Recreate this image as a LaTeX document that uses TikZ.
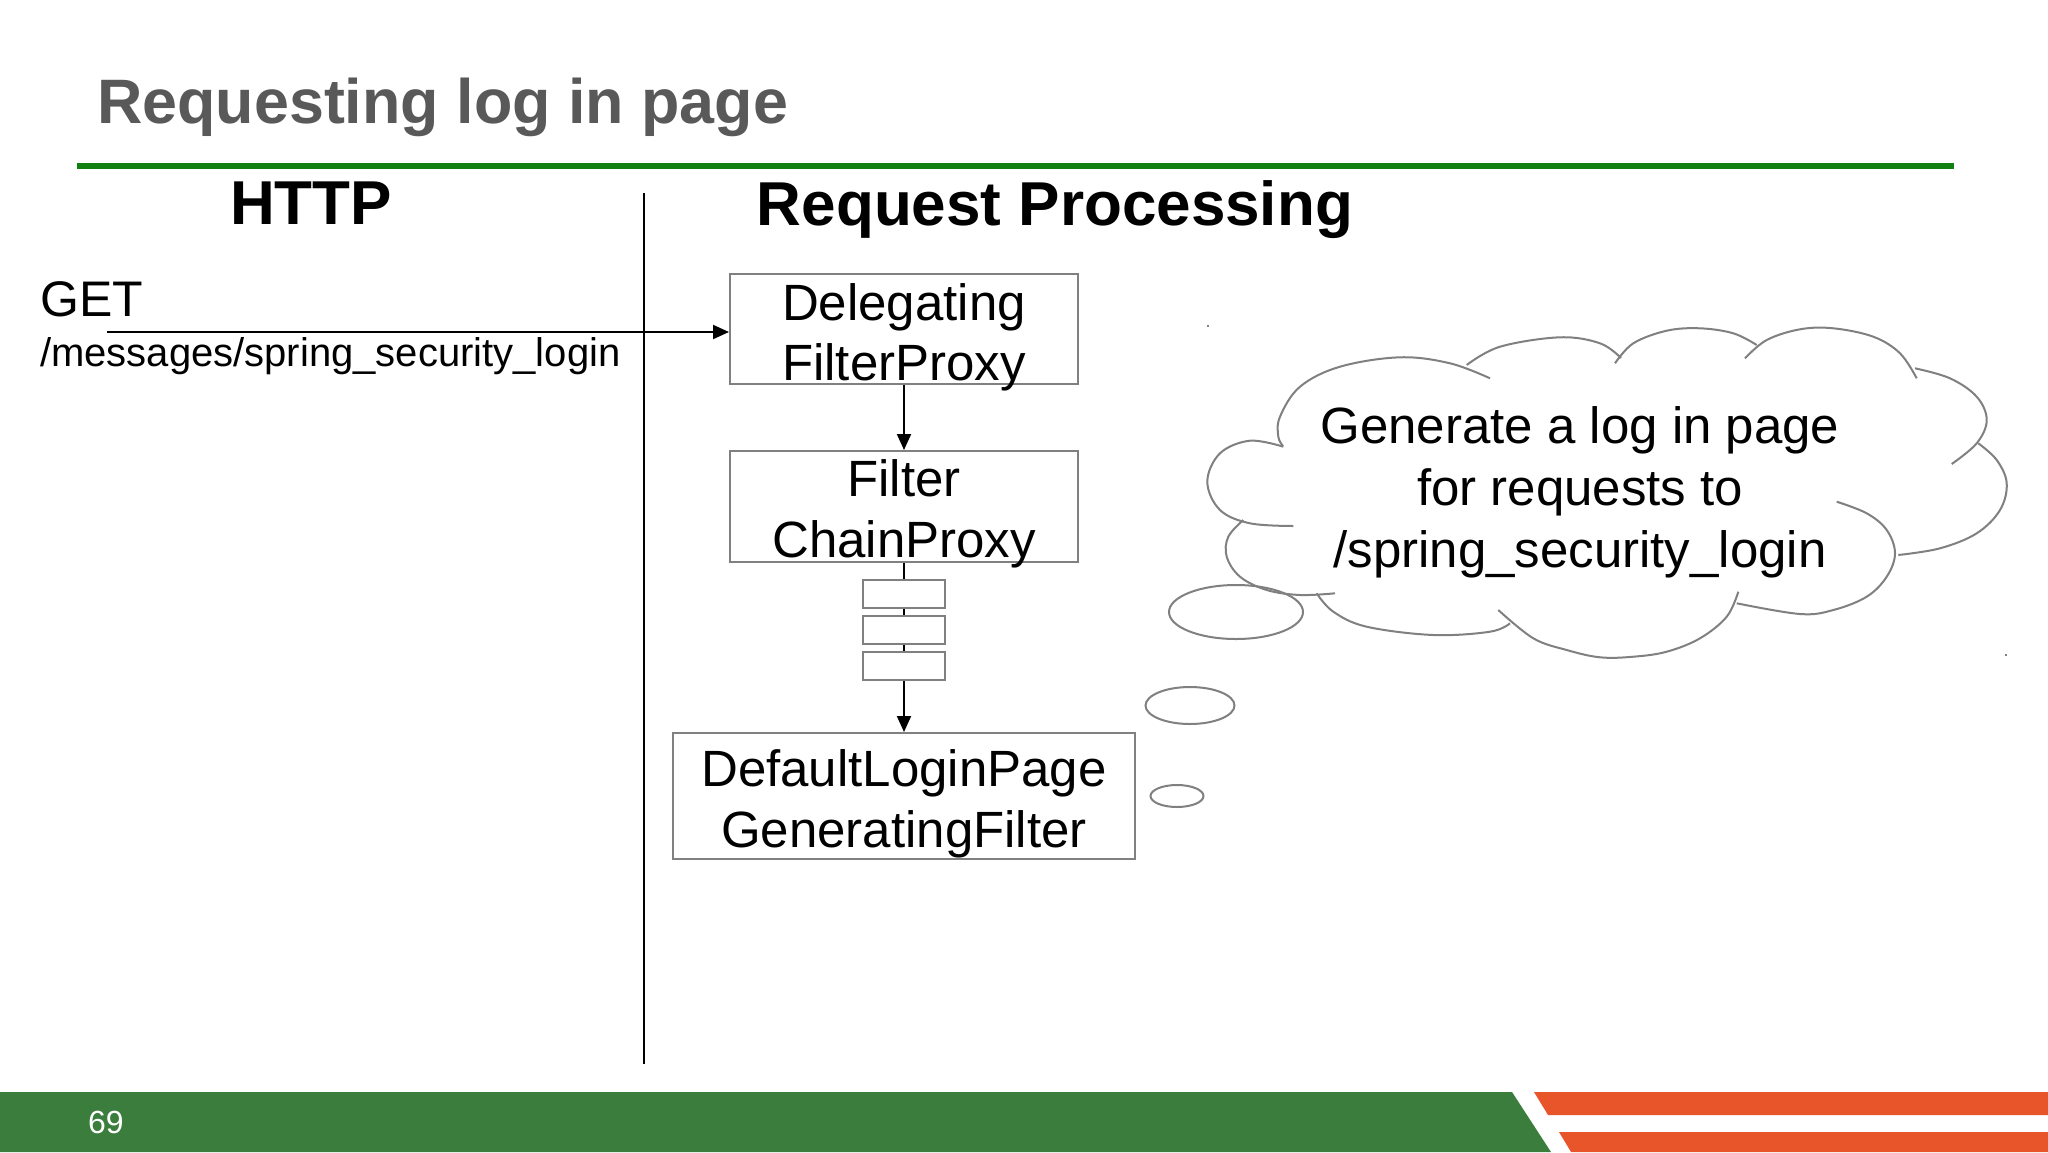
\documentclass[tikz,border=0pt]{standalone}
\usepackage{fontspec}
\setmainfont{Liberation Sans}
\usetikzlibrary{arrows.meta}
\definecolor{titlegray}{RGB}{89,89,89}
\definecolor{rulegreen}{RGB}{16,128,16}
\definecolor{footgreen}{RGB}{59,125,61}
\definecolor{footorange}{RGB}{232,85,43}
\definecolor{boxgray}{RGB}{128,128,128}
\begin{document}
\begin{tikzpicture}[x=1pt,y=-1pt,
  txt/.style={inner sep=0pt, anchor=base},
  boxtxt/.style={txt, font=\fontsize{51}{61}\selectfont},
  head/.style={txt, font=\fontsize{62}{74}\selectfont\bfseries},
  box/.style={draw=boxgray, line width=2pt, rectangle, inner sep=0pt, fill=white},
  link/.style={draw=black, line width=2pt},
  flow/.style={link, -{Triangle[length=16pt,width=14pt]}},
  puff/.style={draw=boxgray, line width=2pt, smooth, tension=0.6},
  bubble/.style={draw=boxgray, line width=2pt},
]
% page frame
\useasboundingbox (0,0) rectangle (2048,1152);
\fill[white] (0,0) rectangle (2048,1152);

% title and rule
\node[txt, anchor=base west, font=\fontsize{62.8}{75}\selectfont\bfseries, text=titlegray] (title) at (97,123) {Requesting log in page};
\fill[rulegreen] (77,163) rectangle (1954,169);

% column headings and divider
\node[head] (http) at (311,224) {HTTP};
\node[head] (reqproc) at (1055,225) {Request Processing};
\coordinate (divtop) at (644,193);
\coordinate (divbot) at (644,1064);
\draw[link] (divtop) -- (divbot);

% incoming request
\node[txt, anchor=base west, font=\fontsize{50}{60}\selectfont] (get) at (40,316) {GET};
\node[txt, anchor=base west, font=\fontsize{40}{48}\selectfont] (getpath) at (40,366) {/messages/spring\_security\_login};

% filter boxes
\node[box, minimum width=348pt, minimum height=110pt] (dfp) at (904,329) {};
\node[box, minimum width=348pt, minimum height=111pt] (fcp) at (904,506.5) {};
\node[box, minimum width=82pt, minimum height=28pt] (f1) at (904,593.5) {};
\node[box, minimum width=82pt, minimum height=28pt] (f2) at (904,630) {};
\node[box, minimum width=82pt, minimum height=28pt] (f3) at (904,666) {};
\node[box, minimum width=462pt, minimum height=126pt] (dlp) at (904,796) {};

\node[boxtxt] (dfp1) at (904,320) {Delegating};
\node[boxtxt] (dfp2) at (904,380) {FilterProxy};
\node[boxtxt] (fcp1) at (904,496) {Filter};
\node[boxtxt] (fcp2) at (904,557) {ChainProxy};
\node[boxtxt] (dlp1) at (904,786) {DefaultLoginPage};
\node[boxtxt] (dlp2) at (904,847) {GeneratingFilter};

% connectors
\coordinate (getstart) at (107,332);
\draw[flow] (getstart) -- (getstart -| dfp.west);
\draw[flow] (dfp.south) -- (fcp.north);
\draw[link] (fcp.south) -- (f1.north);
\draw[link] (f1.south) -- (f2.north);
\draw[link] (f2.south) -- (f3.north);
\draw[flow] (f3.south) -- (dlp.north);

% thought cloud
\draw[puff] plot coordinates {(1283.3,446.7) (1250,440.7) (1220,453.3) (1207.3,481.7) (1220,510) (1250,523.3) (1293.3,526)};
\draw[puff] plot coordinates {(1283,446) (1278.3,436.7) (1280,416.7) (1300,386.7) (1340,366.7) (1400,357.3) (1450,363.3) (1490,378.3)};
\draw[puff] plot coordinates {(1466.7,365) (1500,346.7) (1560,337.3) (1600,343.3) (1621,358)};
\draw[puff] plot coordinates {(1615,363.3) (1633.3,343.3) (1666.7,330.7) (1700,328.3) (1733.3,333.3) (1756.7,345)};
\draw[puff] plot coordinates {(1745,358.3) (1766.7,340) (1800,329.3) (1833.3,328.3) (1873.3,336.7) (1900,353.3) (1916.7,378.3)};
\draw[puff] plot coordinates {(1915,368.3) (1950,378.3) (1976.7,396.7) (1986.7,420) (1976.7,443.3) (1951.7,464)};
\draw[puff] plot coordinates {(1978.3,443.3) (1996.7,460) (2006.7,483.3) (2000,510) (1976.7,533.3) (1940,548.3) (1898.3,555)};
\draw[puff] plot coordinates {(1836.7,501.7) (1866.7,513.3) (1886.7,530) (1895,553.3) (1886.7,576.7) (1866.7,596.7) (1833.3,610) (1800,614) (1736.7,603.3)};
\draw[puff] plot coordinates {(1738.3,591.7) (1726.7,616.7) (1700,638.3) (1666.7,651.7) (1633.3,656.7) (1600,657.3) (1566.7,650) (1533.3,638.3) (1498.3,610)};
\draw[puff] plot coordinates {(1510,623.3) (1490,631.7) (1433.3,635) (1366.7,626.7) (1333.3,611.7) (1316.7,593.3)};
\draw[puff] plot coordinates {(1243.3,520) (1228.3,536.7) (1226.7,556.7) (1240,576.7) (1266.7,590) (1300,595) (1335,593.3)};
\fill[boxgray] (1207,325) rectangle (1209,327);
\fill[boxgray] (2005,654) rectangle (2007,656);

\node[boxtxt] (ct1) at (1580,443) {Generate a log in page};
\node[boxtxt] (ct2) at (1580,505) {for requests to};
\node[boxtxt] (ct3) at (1580,567) {/spring\_security\_login};

% trailing bubbles
\draw[bubble] (1236,612) ellipse [x radius=67pt, y radius=27pt];
\draw[bubble] (1190,705.5) ellipse [x radius=44.5pt, y radius=18.5pt];
\draw[bubble] (1177,796) ellipse [x radius=26.5pt, y radius=11pt];

% footer band
\fill[footgreen] (0,1092) -- (1512,1092) -- (1551,1152) -- (0,1152) -- cycle;
\fill[footorange] (1534,1092) -- (2048,1092) -- (2048,1115) -- (1548,1115) -- cycle;
\fill[footorange] (1559,1132) -- (2048,1132) -- (2048,1152) -- (1571,1152) -- cycle;
\node[txt, anchor=base west, text=white, font=\fontsize{32}{38}\selectfont] (pagenum) at (88,1133) {69};
\end{tikzpicture}
\end{document}
